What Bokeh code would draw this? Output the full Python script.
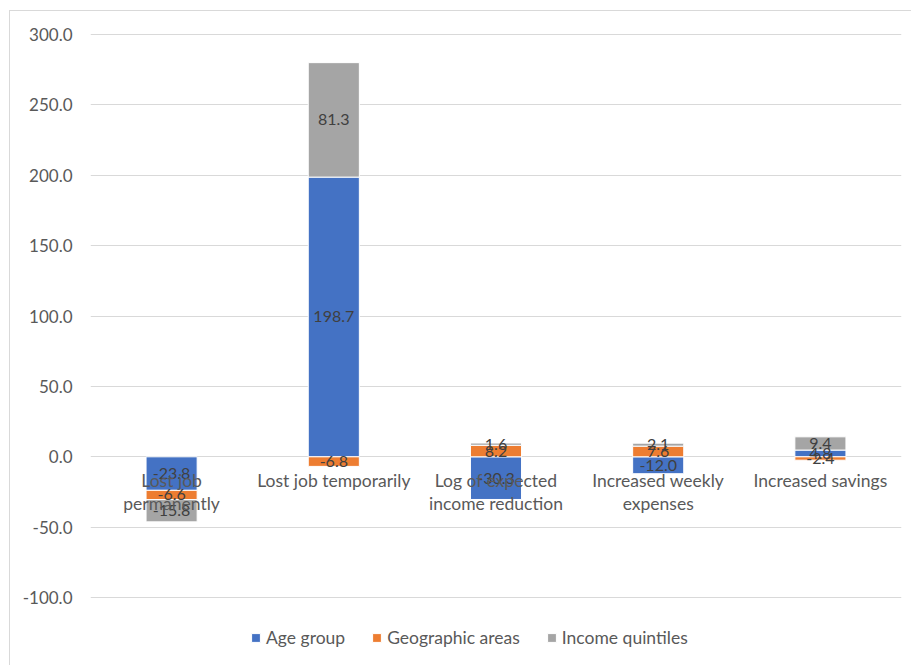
from bokeh.plotting import figure
from bokeh.models import (ColumnDataSource, FactorRange, FixedTicker, NumeralTickFormatter,
                          Legend, LegendItem)
from bokeh.core.properties import value
from bokeh.embed import file_html
from bokeh.resources import INLINE

# Categories and their wrapped display lines
categories = ["Lost job permanently", "Lost job temporarily", "Log of expected income reduction",
              "Increased weekly expenses", "Increased savings"]
label_line1 = ["Lost job", "Lost job temporarily", "Log of expected", "Increased weekly", "Increased savings"]
label_line2 = ["permanently", "", "income reduction", "expenses", ""]

# Series values
series_names = ["Age group", "Geographic areas", "Income quintiles"]
age_group = [-23.8, 198.7, -30.3, -12.0, 4.8]
geographic_areas = [-6.6, -6.8, 8.2, 7.6, -2.4]
income_quintiles = [-15.8, 81.3, 1.6, 2.1, 9.4]
series_values = [age_group, geographic_areas, income_quintiles]
colors = ["#4472C4", "#ED7D31", "#A5A5A5"]

y_ticks = [-100, -50, 0, 50, 100, 150, 200, 250, 300]

FONT = "Lato"

p = figure(width=902, height=655, x_range=FactorRange(*categories, range_padding=0),
           y_range=(-141.13, 300.71), output_backend="svg", toolbar_location=None,
           min_border_left=80, min_border_right=11, min_border_top=22, min_border_bottom=11)
p.margin = (10, 0, 0, 9)
p.styles = {"border-left": "1px solid #D9D9D9", "border-top": "1px solid #D9D9D9"}
p.outline_line_color = None
p.background_fill_color = "white"
p.border_fill_color = "white"

# Stack positives upward and negatives downward, in series order
pos_base = [0.0] * len(categories)
neg_base = [0.0] * len(categories)
renderers = []
label_x, label_y, label_txt = [], [], []
for name, vals, col in zip(series_names, series_values, colors):
    bottoms, tops = [], []
    for i, v in enumerate(vals):
        if v >= 0:
            b, t = pos_base[i], pos_base[i] + v
            pos_base[i] = t
        else:
            b, t = neg_base[i] + v, neg_base[i]
            neg_base[i] = b
        bottoms.append(b)
        tops.append(t)
        label_x.append(categories[i])
        label_y.append((b + t) / 2)
        label_txt.append(f"{v:.1f}")
    src = ColumnDataSource(dict(x=categories, bottom=bottoms, top=tops))
    r = p.vbar(x="x", bottom="bottom", top="top", width=0.315, source=src,
               fill_color=col, line_color="white", line_width=1)
    renderers.append((name, r))

# Value labels centred in each segment
p.text(x=label_x, y=label_y, text=label_txt, text_align="center", text_baseline="middle",
       text_font=value(FONT), text_font_size="16px", text_color="#404040")

# Category labels sit just under the zero line
cat_src = ColumnDataSource(dict(x=categories, y=[0] * len(categories), l1=label_line1, l2=label_line2))
p.text(x="x", y="y", text="l1", source=cat_src, y_offset=24, text_align="center",
       text_baseline="middle", text_font=value(FONT), text_font_size="17.5px", text_color="#595959")
p.text(x="x", y="y", text="l2", source=cat_src, y_offset=47, text_align="center",
       text_baseline="middle", text_font=value(FONT), text_font_size="17.5px", text_color="#595959")

p.xaxis.visible = False
p.xgrid.grid_line_color = None
p.ygrid.grid_line_color = "#D9D9D9"
p.ygrid.grid_line_width = 1
p.yaxis.ticker = FixedTicker(ticks=y_ticks)
p.yaxis.formatter = NumeralTickFormatter(format="0.0")
p.yaxis.axis_line_color = None
p.yaxis.major_tick_line_color = None
p.yaxis.minor_tick_line_color = None
p.yaxis.major_label_standoff = 12
p.yaxis.major_label_text_font = FONT
p.yaxis.major_label_text_font_size = "17px"
p.yaxis.major_label_text_color = "#595959"

legend = Legend(items=[LegendItem(label=n, renderers=[r]) for n, r in renderers],
                orientation="horizontal", location=(160, 7),
                label_text_font=FONT, label_text_font_size="17.5px", label_text_color="#595959",
                glyph_width=11, glyph_height=11, label_standoff=5, spacing=26,
                border_line_color=None, background_fill_alpha=0, margin=0, padding=0)
p.add_layout(legend)

open("out.html", "w").write(file_html(p, INLINE))
